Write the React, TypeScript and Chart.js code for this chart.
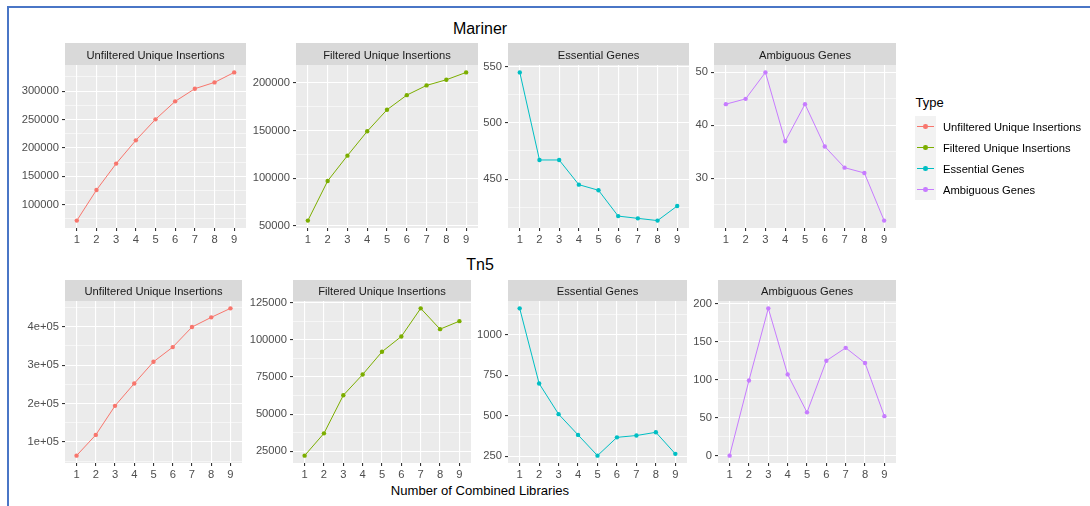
import React, { useEffect, useRef } from "react";
import { Chart, registerables } from "chart.js";

Chart.register(...registerables);

const FONT = "'Liberation Sans', Arial, Helvetica, sans-serif";

// Number of combined libraries (x axis of every panel)
const libraries = [1, 2, 3, 4, 5, 6, 7, 8, 9];
const libraryLabels = ["1", "2", "3", "4", "5", "6", "7", "8", "9"];

// Series types and their colours
const typeNames = [
  "Unfiltered Unique Insertions",
  "Filtered Unique Insertions",
  "Essential Genes",
  "Ambiguous Genes",
];
const typeColors = ["#F8766D", "#7CAE00", "#00BFC4", "#C77CFF"];

// Mariner
const marinerUnfiltered = [71800, 125700, 172200, 213200, 250200, 281900, 304200, 315300, 332900];
const marinerFiltered = [55600, 97100, 123600, 149100, 171700, 187000, 197200, 203100, 210800];
const marinerEssential = [545, 467, 467, 445, 440, 417, 415, 413, 426];
const marinerAmbiguous = [44, 45, 50, 37, 44, 36, 32, 31, 22];

// Tn5
const tn5Unfiltered = [64300, 118300, 193900, 252100, 308700, 346800, 399000, 424300, 447700];
const tn5Filtered = [22100, 37100, 62700, 76700, 92000, 102300, 121200, 107200, 112600];
const tn5Essential = [1163, 699, 510, 382, 254, 367, 378, 398, 265];
const tn5Ambiguous = [0, 99, 194, 107, 57, 125, 142, 122, 52];

// Major tick spacing per panel
const marinerSteps = [50000, 50000, 50, 10];
const tn5Steps = [100000, 25000, 250, 50];

const plain = (v: number) => String(Math.round(v));
const sci = (v: number) => `${Math.round(v / 1e5)}e+05`;

type PanelSpec = {
  left: number;
  right: number;
  top: number;
  stripH: number;
  bottom: number;
  values: number[];
  type: number;
  step: number;
  format: (v: number) => string;
};

const AXIS_W = 60;
const AXIS_H = 20;
const PAD_R = 4;

const panels: PanelSpec[] = [
  { left: 65, right: 246, top: 43, stripH: 22, bottom: 228, values: marinerUnfiltered, type: 0, step: marinerSteps[0], format: plain },
  { left: 296, right: 478, top: 43, stripH: 22, bottom: 228, values: marinerFiltered, type: 1, step: marinerSteps[1], format: plain },
  { left: 508, right: 689, top: 43, stripH: 22, bottom: 228, values: marinerEssential, type: 2, step: marinerSteps[2], format: plain },
  { left: 714, right: 896, top: 43, stripH: 22, bottom: 228, values: marinerAmbiguous, type: 3, step: marinerSteps[3], format: plain },
  { left: 65, right: 242, top: 280, stripH: 21, bottom: 463, values: tn5Unfiltered, type: 0, step: tn5Steps[0], format: sci },
  { left: 293, right: 471, top: 280, stripH: 21, bottom: 463, values: tn5Filtered, type: 1, step: tn5Steps[1], format: plain },
  { left: 508, right: 687, top: 280, stripH: 21, bottom: 463, values: tn5Essential, type: 2, step: tn5Steps[2], format: plain },
  { left: 718, right: 896, top: 280, stripH: 21, bottom: 463, values: tn5Ambiguous, type: 3, step: tn5Steps[3], format: plain },
];

const isMajor = (v: number, step: number) => Math.abs(v / step - Math.round(v / step)) < 1e-6;

// Panel background and facet strip
const facetDecor = {
  id: "facetDecor",
  beforeDraw(chart: any, _args: any, opts: any) {
    const { ctx, chartArea } = chart;
    ctx.save();
    ctx.fillStyle = "#EBEBEB";
    ctx.fillRect(chartArea.left, chartArea.top, chartArea.right - chartArea.left, chartArea.bottom - chartArea.top);
    ctx.fillStyle = "#D9D9D9";
    ctx.fillRect(chartArea.left, 0, chartArea.right - chartArea.left, chartArea.top);
    ctx.fillStyle = "#1A1A1A";
    ctx.font = `11.2px ${FONT}`;
    ctx.textAlign = "center";
    ctx.textBaseline = "middle";
    ctx.fillText(opts.label, (chartArea.left + chartArea.right) / 2, chartArea.top / 2 + 1.8);
    ctx.restore();
  },
};

function Panel({ spec }: { spec: PanelSpec }) {
  const ref = useRef<HTMLCanvasElement>(null);
  const width = AXIS_W + (spec.right - spec.left) + PAD_R;
  const height = spec.bottom - spec.top + AXIS_H;

  useEffect(() => {
    const color = typeColors[spec.type];
    const lo = Math.min(...spec.values);
    const hi = Math.max(...spec.values);
    const pad = (hi - lo) * 0.05;
    const yMin = lo - pad;
    const yMax = hi + pad;
    const step = spec.step;
    const half = step / 2;

    const chart = new Chart(ref.current as HTMLCanvasElement, {
      type: "line",
      data: {
        datasets: [
          {
            data: libraries.map((x, i) => ({ x, y: spec.values[i] })),
            borderColor: color,
            backgroundColor: color,
            borderWidth: 1,
            pointRadius: 2.2,
            pointBorderWidth: 0,
            pointHoverRadius: 2.2,
            tension: 0,
          },
        ],
      },
      options: {
        animation: false,
        responsive: false,
        events: [],
        layout: { padding: { top: spec.stripH, right: PAD_R, left: 0, bottom: 0 } },
        plugins: {
          legend: { display: false },
          tooltip: { enabled: false },
          facetDecor: { label: typeNames[spec.type] },
        } as any,
        scales: {
          x: {
            type: "linear",
            min: 0.4,
            max: 9.6,
            afterBuildTicks: (s: any) => {
              s.ticks = libraries.map((value) => ({ value }));
            },
            afterFit: (s: any) => {
              s.height = AXIS_H;
            },
            ticks: {
              autoSkip: false,
              maxRotation: 0,
              padding: 2,
              color: "#4D4D4D",
              font: { family: FONT, size: 11.2 },
              callback: (v: any) => libraryLabels[libraries.indexOf(Number(v))] ?? "",
            },
            grid: {
              color: "#FFFFFF",
              lineWidth: 1.1,
              tickLength: 3,
              tickColor: "#333333",
              tickWidth: 1.1,
            },
            border: { display: false },
          },
          y: {
            type: "linear",
            min: yMin,
            max: yMax,
            afterBuildTicks: (s: any) => {
              const ticks: { value: number }[] = [];
              const start = Math.floor(yMin / half) * half;
              for (let v = start; v <= yMax + 1e-9; v += half) {
                if (v >= yMin - 1e-9) ticks.push({ value: v });
              }
              s.ticks = ticks;
            },
            afterFit: (s: any) => {
              s.width = AXIS_W;
            },
            ticks: {
              autoSkip: false,
              padding: 3,
              color: "#4D4D4D",
              font: { family: FONT, size: 11.2 },
              callback: (v: any) => (isMajor(Number(v), step) ? spec.format(Number(v)) : ""),
            },
            grid: {
              color: "#FFFFFF",
              lineWidth: (c: any) => (isMajor(c.tick.value, step) ? 1.1 : 0.55),
              tickLength: 3,
              tickColor: (c: any) => (isMajor(c.tick.value, step) ? "#333333" : "rgba(0,0,0,0)"),
              tickWidth: 1.1,
            },
            border: { display: false },
          },
        },
      },
      plugins: [facetDecor],
    } as any);
    return () => chart.destroy();
  }, [spec]);

  return (
    <canvas
      ref={ref}
      width={width}
      height={height}
      style={{ position: "absolute", left: spec.left - AXIS_W, top: spec.top, width, height }}
    />
  );
}

function Text({ x, y, size, children, align = "center", color = "#000000" }: any) {
  const w = 400;
  const left = align === "center" ? x - w / 2 : x;
  return (
    <div
      style={{
        position: "absolute",
        left,
        top: y - 10,
        width: w,
        height: 20,
        lineHeight: "20px",
        fontSize: size,
        fontFamily: FONT,
        color,
        textAlign: align,
        whiteSpace: "nowrap",
      }}
    >
      {children}
    </div>
  );
}

export default function App() {
  const keyTop = 116;
  const keyH = 21;
  return (
    <div
      style={{
        position: "absolute",
        left: 0,
        top: 0,
        width: 1090,
        height: 506,
        background: "#FFFFFF",
        overflow: "hidden",
        fontFamily: FONT,
      }}
    >
      {/* frame lines */}
      <div style={{ position: "absolute", left: 7, top: 6, width: 1083, height: 2, background: "#4A76C6" }} />
      <div style={{ position: "absolute", left: 7, top: 6, width: 2, height: 500, background: "#4A76C6" }} />

      <Text x={480} y={29} size={16}>Mariner</Text>
      <Text x={480} y={265} size={16}>Tn5</Text>
      <Text x={480} y={491} size={13.1}>Number of Combined Libraries</Text>

      {panels.map((p, i) => (
        <Panel key={i} spec={p} />
      ))}

      {/* legend */}
      <Text x={915.5} y={103} size={13} align="left">Type</Text>
      <div style={{ position: "absolute", left: 915, top: keyTop, width: 21, height: keyH * 4, background: "#F2F2F2" }} />
      {typeNames.map((name, i) => {
        const cy = keyTop + keyH * i + keyH / 2;
        return (
          <React.Fragment key={name}>
            <div style={{ position: "absolute", left: 917, top: cy - 0.5, width: 17, height: 1, background: typeColors[i] }} />
            <div
              style={{
                position: "absolute",
                left: 925.5 - 2.3,
                top: cy - 2.3,
                width: 4.6,
                height: 4.6,
                borderRadius: "50%",
                background: typeColors[i],
              }}
            />
            <Text x={943} y={cy} size={11.2} align="left" color="#000000">{name}</Text>
          </React.Fragment>
        );
      })}
    </div>
  );
}
